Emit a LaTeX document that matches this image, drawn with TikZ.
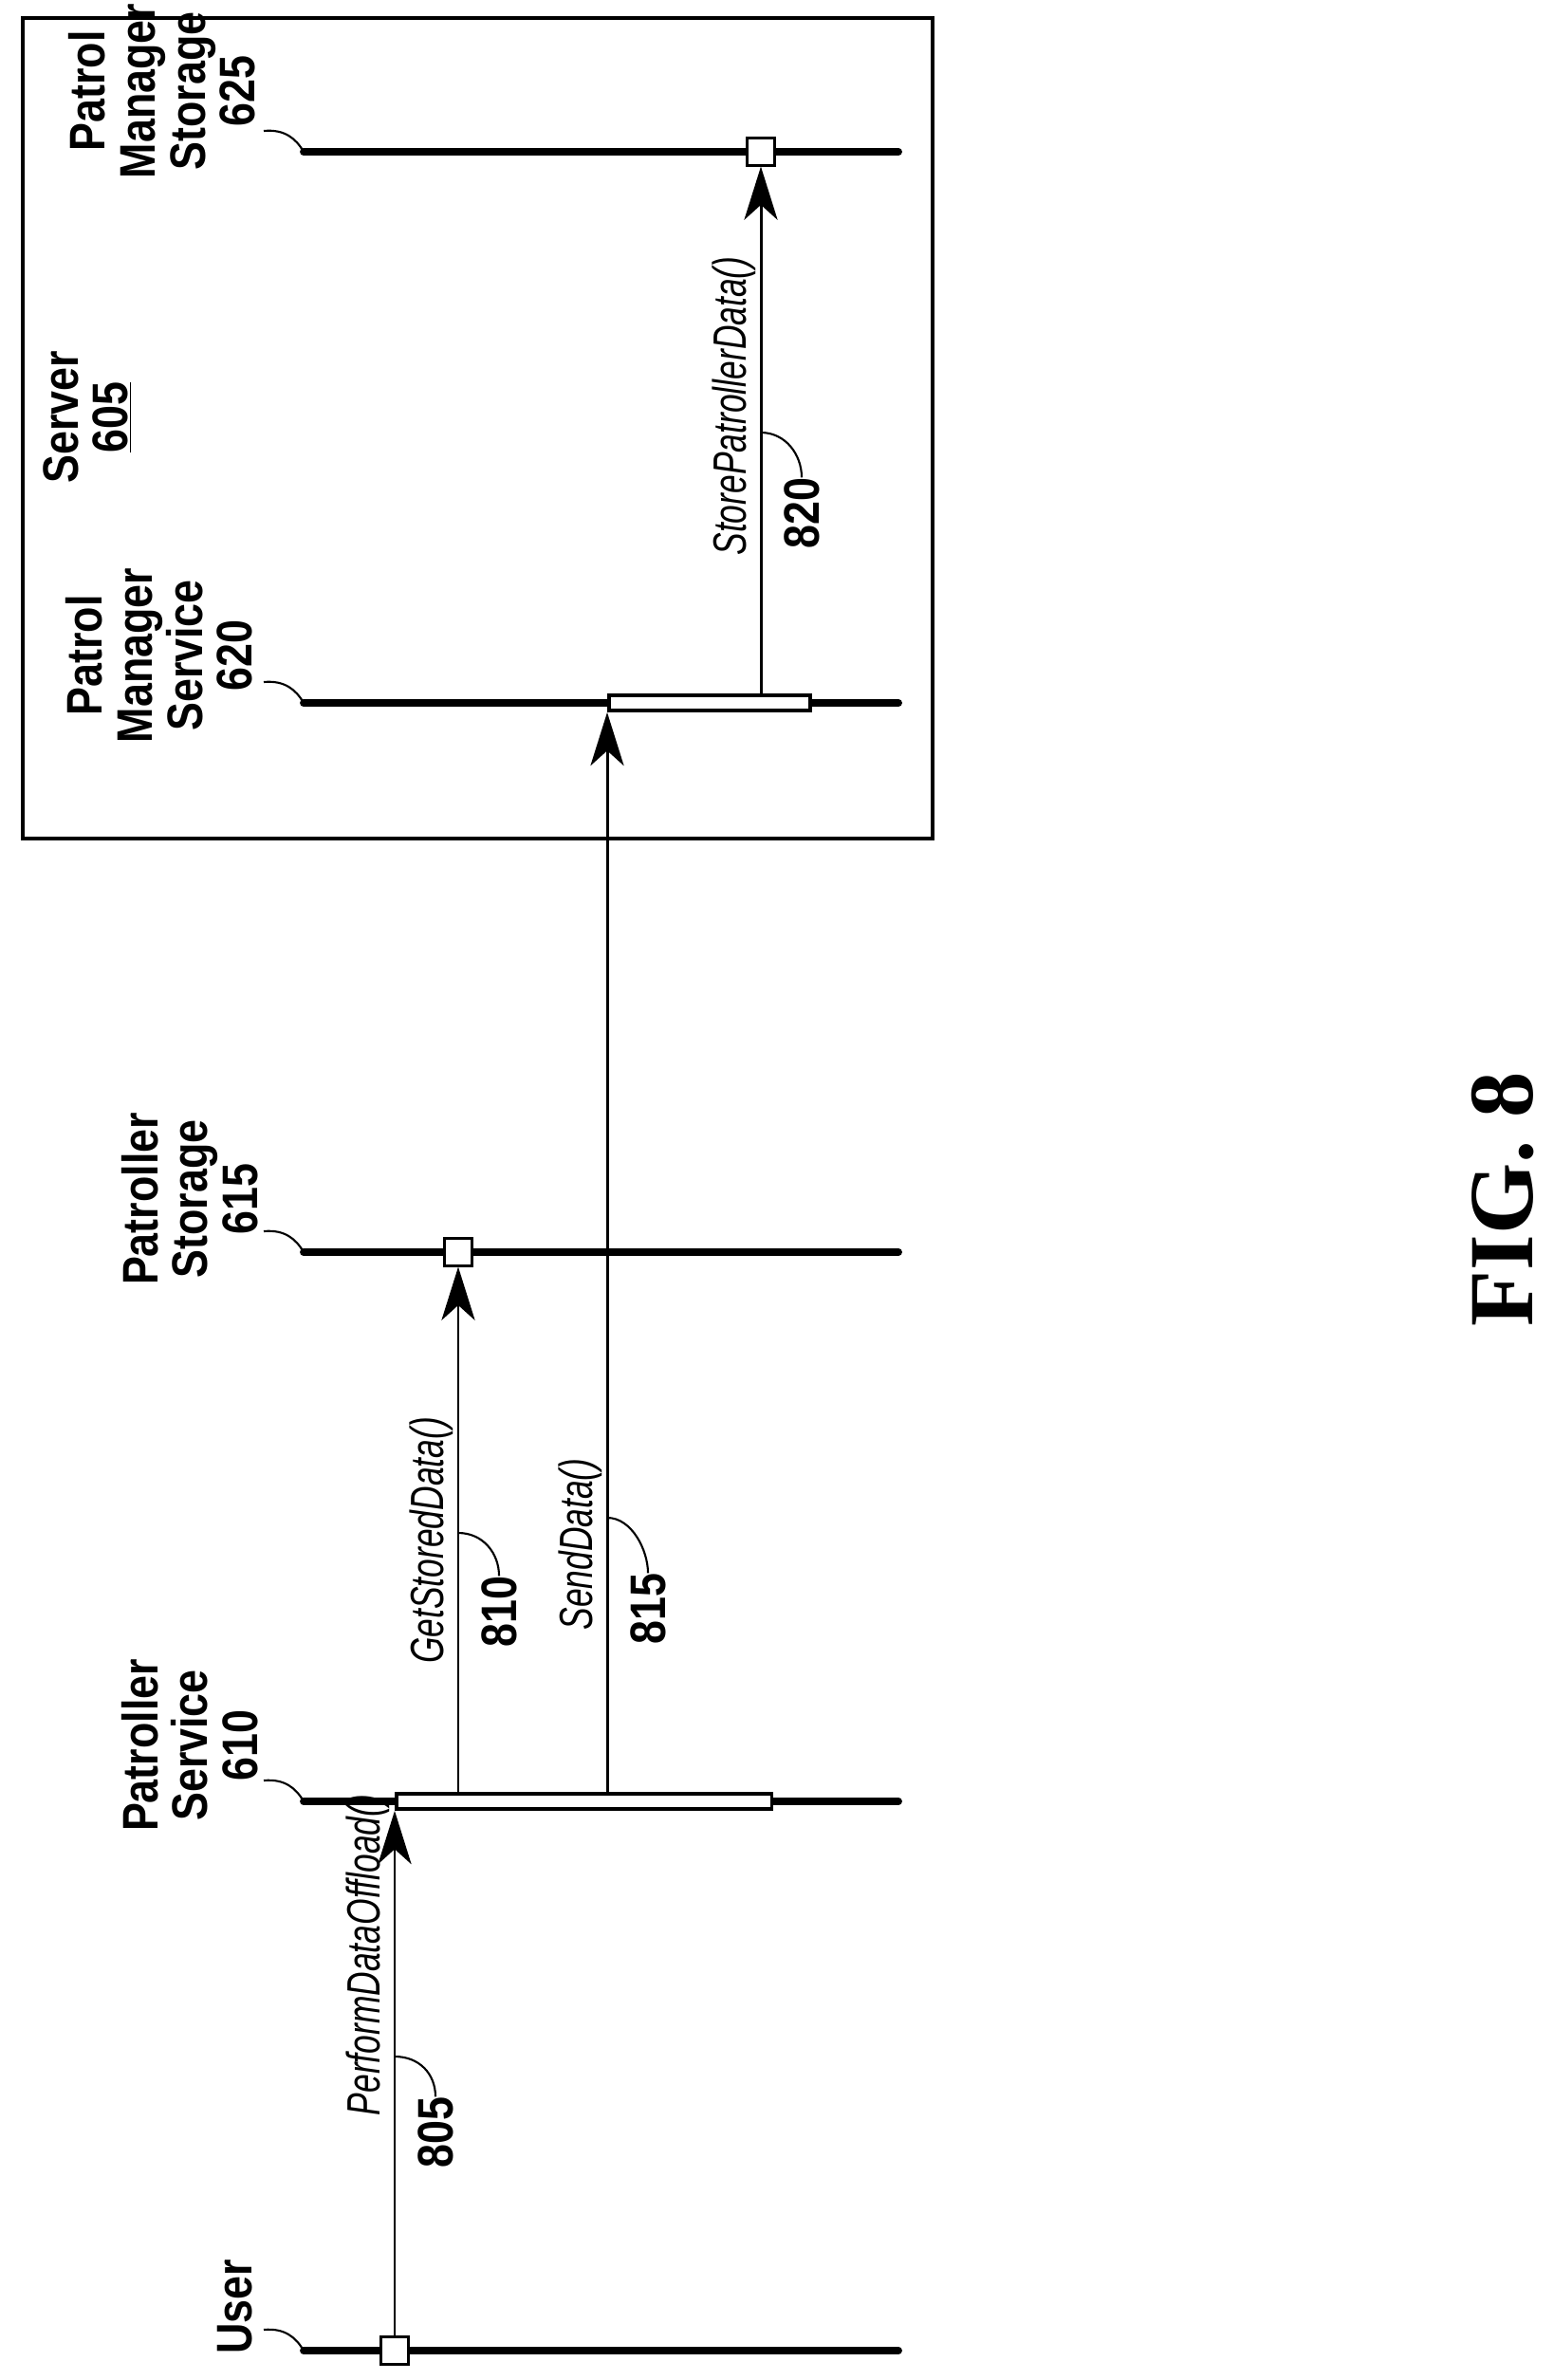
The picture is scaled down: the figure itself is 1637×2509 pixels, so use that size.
\documentclass[tikz,border=0pt]{standalone}
\usepackage{fontspec}
\setmainfont{Liberation Sans}
\newfontfamily\figfont{Liberation Serif}
\usetikzlibrary{arrows.meta}
\newcommand{\nar}[1]{\scalebox{0.85}[1]{#1}}
\newcommand{\thin}[1]{\scalebox{0.72}[1]{#1}}
\tikzset{
	life/.style = {line width = 4.5pt, line cap = round},
	bar/.style = {draw, fill = white, line width = 2.2pt},
	msg/.style = {line width = 1.7pt, -{Stealth[length = 32pt, width = 20pt, inset = 9pt]}},
	sq/.style = {draw, fill = white, line width = 1.7pt, minimum size = 16pt, inner sep = 0pt},
	who/.style = {rotate = 90, align = center, font = \fontsize{30}{30}\selectfont\bfseries},
	call/.style = {rotate = 90, anchor = south, inner sep = 3pt, font = \fontsize{28}{28}\selectfont\itshape},
	num/.style = {rotate = 90, anchor = north, inner sep = 0pt, font = \fontsize{30}{30}\selectfont\bfseries},
	lead/.style = {line width = 1.2pt}
}
\begin{document}
\begin{tikzpicture}[x = 0.02cm, y = -0.02cm]
	\useasboundingbox (0,0) rectangle (1637,2509);

	% server frame
	\draw[line width = 2.8pt] (24,19) rectangle (983,884);
	\node[who] (srv) at (92,440) {\nar{Server}\\\underline{\nar{605}}};

	% lifelines
	\foreach \n/\y in {pms/160, pmv/741, pst/1320, psv/1899, usr/2478}{
		\coordinate (\n0) at (320,\y);
		\coordinate (\n1) at (947,\y);
		\draw[life] (\n0) -- (\n1);
		\draw[lead] (\n0) ++(-42,-22) .. controls ++(22,-2) and ++(-8,-14) .. (\n0);
	}
	\node[who] (lpms) at (171,96) {\nar{Patrol}\\\nar{Manager}\\\nar{Storage}\\\nar{625}};
	\node[who] (lpmv) at (168,691) {\nar{Patrol}\\\nar{Manager}\\\nar{Service}\\\nar{620}};
	\node[who] (lpst) at (200,1264) {\nar{Patroller}\\\nar{Storage}\\\nar{615}};
	\node[who] (lpsv) at (200,1840) {\nar{Patroller}\\\nar{Service}\\\nar{610}};
	\node[who] (lusr) at (248,2432) {\nar{User}};

	% activations
	\node[bar, minimum width = 213pt*0.02/0.0352778, minimum height = 16*0.02cm, inner sep = 0pt,
		anchor = west] (apmv) at (640,741) {};
	\node[bar, minimum width = 397pt*0.02/0.0352778, minimum height = 16*0.02cm, inner sep = 0pt,
		anchor = west] (apsv) at (416,1899) {};

	% end squares
	\node[sq] (s805) at (416,2478) {};
	\node[sq] (s810) at (483,1320) {};
	\node[sq] (s820) at (802,160) {};

	% messages
	\draw[msg] (s805.north) -- (apsv.south west);
	\draw[msg] (apsv.north west -| s810) -- (s810.south);
	\draw[msg] (apsv.north west -| apmv.west) -- (apmv.south west);
	\draw[msg] (apmv.north west -| s820) -- (s820.south);

	\node[call] (c805) at (416,2061) {\thin{PerformDataOffload()}};
	\node[call] (c810) at (483,1624) {\thin{GetStoredData()}};
	\node[call] (c815) at (640,1628) {\thin{SendData()}};
	\node[call] (c820) at (802,428) {\thin{StorePatrollerData()}};

	\node[num] (n805) at (440,2248) {\nar{805}};
	\node[num] (n810) at (507,1699) {\nar{810}};
	\node[num] (n815) at (664,1696) {\nar{815}};
	\node[num] (n820) at (826,541) {\nar{820}};

	\foreach \a/\y in {805/2168, 810/1616, 815/1600, 820/456}{
		\draw[lead] (c\a.south |- 0,\y) .. controls ++(26,0) and ++(0,-24) .. (n\a.east);
	}

	\node[rotate = 90, font = \fontsize{55}{55}\selectfont\figfont\bfseries] (fig) at (1584,1264) {FIG. 8};
\end{tikzpicture}
\end{document}
